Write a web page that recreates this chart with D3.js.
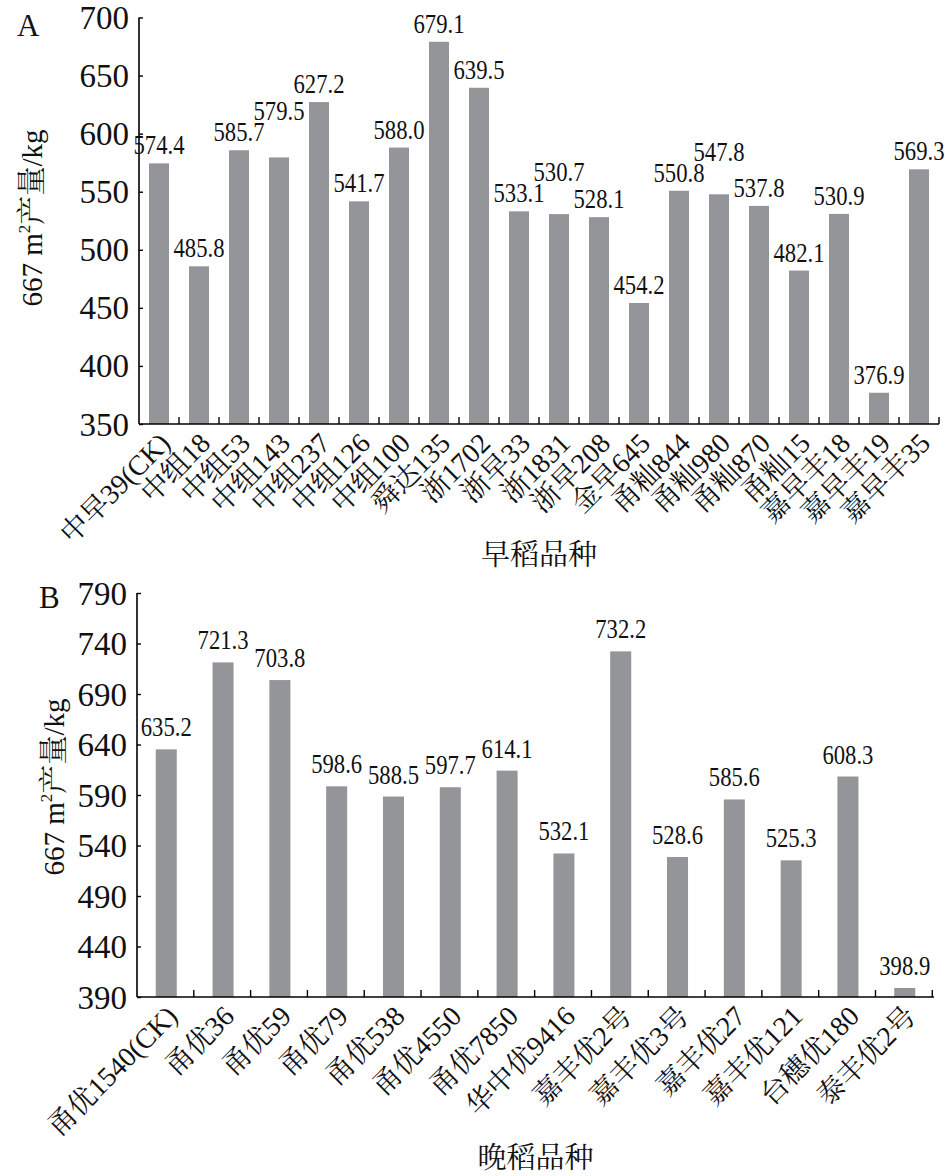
<!DOCTYPE html>
<html>
<head>
<meta charset="utf-8">
<script src="https://cdn.jsdelivr.net/npm/d3@7"></script>
<style>
  body { margin: 0; background: #fff; }
  svg { display: block; }
  text { font-family: "Liberation Serif", "Times New Roman", "Noto Serif CJK SC", "Noto Sans CJK SC", serif; fill: #111; }
</style>
</head>
<body>
<svg id="chart" width="945" height="1176"></svg>
<script>
// Early rice varieties (panel A)
const earlyNames = ['中早39(CK)', '中组18', '中组53', '中组143', '中组237', '中组126', '中组100', '舜达135', '浙1702', '浙早33',
    '浙1831', '浙早208', '金早645', '甬籼844', '甬籼980', '甬籼870', '甬籼15', '嘉早丰18', '嘉早丰19', '嘉早丰35'];
const earlyYield = [574.4, 485.8, 585.7, 579.5, 627.2, 541.7, 588.0, 679.1, 639.5, 533.1,
    530.7, 528.1, 454.2, 550.8, 547.8, 537.8, 482.1, 530.9, 376.9, 569.3];
const earlyTicks = [350, 400, 450, 500, 550, 600, 650, 700];

// Late rice varieties (panel B)
const lateNames = ['甬优1540(CK)', '甬优36', '甬优59', '甬优79', '甬优538', '甬优4550', '甬优7850',
    '华中优9416', '嘉丰优2号', '嘉丰优3号', '嘉丰优27', '嘉丰优121', '台穗优180', '泰丰优2号'];
const lateYield = [635.2, 721.3, 703.8, 598.6, 588.5, 597.7, 614.1, 532.1, 732.2, 528.6, 585.6, 525.3, 608.3, 398.9];
const lateTicks = [390, 440, 490, 540, 590, 640, 690, 740, 790];

const BAR_COLOR = '#939598';
const svg = d3.select('#chart');

function drawPanel(opts) {
    const { names, values, ticks, left, right, top, bottom, padInner, padOuter } = opts;
    const g = svg.append('g');

    const x = d3.scaleBand().domain(names).range([left, right])
        .paddingInner(padInner).paddingOuter(padOuter);
    const y = d3.scaleLinear().domain(d3.extent(ticks)).range([bottom, top]);

    // bars
    g.selectAll('rect.bar')
        .data(values)
        .enter().append('rect')
        .attr('class', 'bar')
        .attr('x', (d, i) => x(names[i]))
        .attr('width', x.bandwidth())
        .attr('y', d => y(Math.max(d, ticks[0])))
        .attr('height', d => bottom - y(Math.max(d, ticks[0])))
        .attr('fill', BAR_COLOR);

    // value labels, lifted when they collide with a neighbour
    const labelW = 52, labelH = 20, gap = opts.labelGap;
    const placed = [];
    values.forEach((v, i) => {
        const cx = x(names[i]) + x.bandwidth() / 2;
        let by = y(v) - gap;
        let moved = true;
        while (moved) {
            moved = false;
            for (const p of placed) {
                if (Math.abs(p.cx - cx) < labelW && Math.abs(p.by - by) < labelH) {
                    by = p.by - labelH - 1;
                    moved = true;
                }
            }
        }
        placed.push({ cx, by });
        g.append('text')
            .attr('transform', `translate(${cx},${by}) scale(0.84,1)`)
            .attr('text-anchor', 'middle')
            .attr('font-size', 27)
            .text(v.toFixed(1));
    });

    // y axis
    const yAxis = g.append('g').attr('transform', `translate(${left},0)`)
        .call(d3.axisRight(y).tickValues(ticks).tickSize(4).tickFormat(''));
    yAxis.select('.domain').attr('d', `M0,${top}V${bottom}`).attr('stroke-width', 1.6);
    yAxis.selectAll('.tick line').attr('stroke-width', 1.4);
    g.selectAll('text.ytick')
        .data(ticks)
        .enter().append('text')
        .attr('class', 'ytick')
        .attr('x', left - 10)
        .attr('y', d => y(d))
        .attr('dy', '0.35em')
        .attr('text-anchor', 'end')
        .attr('font-size', 33)
        .text(d => d);

    // x axis: baseline with upward ticks between bands
    const step = x.step();
    const bounds = d3.range(1, names.length + 1).map(i => left + i * step);
    g.append('line')
        .attr('x1', left).attr('x2', right)
        .attr('y1', bottom).attr('y2', bottom)
        .attr('stroke', '#000').attr('stroke-width', 1.6);
    g.selectAll('line.xtick')
        .data(bounds)
        .enter().append('line')
        .attr('class', 'xtick')
        .attr('x1', d => d).attr('x2', d => d)
        .attr('y1', bottom).attr('y2', bottom - 7)
        .attr('stroke', '#000').attr('stroke-width', 1.4);

    // category labels at -45 degrees
    g.selectAll('text.cat')
        .data(names)
        .enter().append('text')
        .attr('class', 'cat')
        .attr('transform', d => `translate(${x(d) + x.bandwidth() / 2 + 6},${bottom + 14}) rotate(-45)`)
        .attr('text-anchor', 'end')
        .attr('dy', '0.35em')
        .attr('font-size', 28)
        .text(d => d);

    // axis titles and panel letter
    const yt = g.append('text')
        .attr('transform', `translate(${opts.yTitleX},${opts.yTitleY}) rotate(-90)`)
        .attr('text-anchor', 'middle')
        .attr('font-size', 29);
    yt.append('tspan').text('667 m');
    yt.append('tspan').attr('font-size', 17).attr('dy', -12).text('2');
    yt.append('tspan').attr('dy', 12).text('产量/kg');

    g.append('text')
        .attr('x', (left + right) / 2)
        .attr('y', opts.xTitleY)
        .attr('text-anchor', 'middle')
        .attr('font-size', 29)
        .text(opts.xTitle);

    g.append('text')
        .attr('x', opts.letterX)
        .attr('y', opts.letterY)
        .attr('font-size', 31)
        .text(opts.letter);
}

drawPanel({
    names: earlyNames, values: earlyYield, ticks: earlyTicks,
    left: 139, right: 939, top: 17.5, bottom: 424,
    padInner: 0.5, padOuter: 0.25, labelGap: 9,
    yTitleX: 42, yTitleY: 218,
    xTitle: '早稻品种', xTitleY: 565,
    letter: 'A', letterX: 17, letterY: 36
});

drawPanel({
    names: lateNames, values: lateYield, ticks: lateTicks,
    left: 137, right: 934, top: 593, bottom: 997,
    padInner: 0.63, padOuter: 0.33, labelGap: 13,
    yTitleX: 64, yTitleY: 787,
    xTitle: '晚稻品种', xTitleY: 1168,
    letter: 'B', letterX: 39, letterY: 608
});
</script>
</body>
</html>
